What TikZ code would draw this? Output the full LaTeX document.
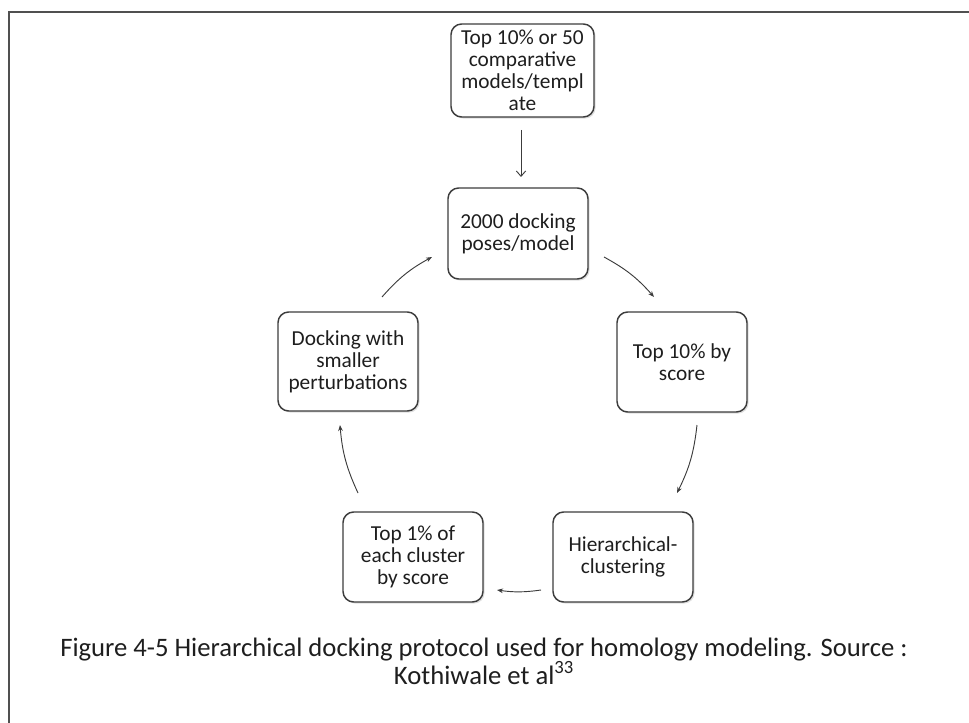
\documentclass[tikz,border=0pt]{standalone}
\usepackage{fontspec}
\setmainfont{Carlito}
\usetikzlibrary{arrows.meta,shadows}
\definecolor{framegray}{HTML}{505050}
\definecolor{boxline}{HTML}{3C3C3C}
\definecolor{txt}{HTML}{1E1E1E}
\begin{document}
\begin{tikzpicture}[x=0.75pt,y=-0.75pt,
  stepbox/.style={draw=boxline, line width=1.1pt, rounded corners=8pt, fill=white,
    align=center, text=txt, font=\fontsize{16}{16.4}\selectfont, inner sep=0pt,
    drop shadow={shadow xshift=1.2pt, shadow yshift=-1.2pt, opacity=0.25, fill=gray}},
  flow/.style={draw=boxline, line width=0.7pt, -{Stealth[length=4.5pt,width=3.5pt]}},
  feed/.style={draw=boxline, line width=0.7pt, -{Straight Barb[length=4pt,width=7pt]}},
  captext/.style={font=\fontsize{20}{21}\selectfont, text=txt, inner sep=0pt, anchor=base}]
\useasboundingbox (0,0) rectangle (969,723);
% outer frame, cut off at right and bottom
\draw[framegray, line width=1.6pt] (9,723) -- (9,12) -- (969,12);

% protocol steps
\node[stepbox, minimum width=143*0.75pt, minimum height=93*0.75pt] (seed) at (522.5,70.5)
  {Top 10\% or 50\\comparative\\models/templ\\ate};
\node[stepbox, minimum width=140*0.75pt, minimum height=91*0.75pt] (poses) at (518,233.5)
  {2000 docking\\poses/model};
\node[stepbox, minimum width=130*0.75pt, minimum height=100*0.75pt] (top10) at (682,362)
  {Top 10\% by\\score};
\node[stepbox, minimum width=140*0.75pt, minimum height=90*0.75pt] (hier) at (623,557)
  {Hierarchical-\\clustering};
\node[stepbox, minimum width=140*0.75pt, minimum height=90*0.75pt] (top1) at (413,557)
  {Top 1\% of\\each cluster\\by score};
\node[stepbox, minimum width=140*0.75pt, minimum height=99*0.75pt] (refine) at (348,361.5)
  {Docking with\\smaller\\perturbations};

% connector end points
\coordinate (a1) at (521,130); \coordinate (a2) at (521,177);
\coordinate (b1) at (604,257); \coordinate (b2) at (654,297);
\coordinate (c1) at (697,425); \coordinate (c2) at (677,493);
\coordinate (d1) at (541,590); \coordinate (d2) at (497,590);
\coordinate (e1) at (358,493); \coordinate (e2) at (340,425);
\coordinate (f1) at (382,297); \coordinate (f2) at (432,257);

\draw[feed] (a1) -- (a2);
\draw[flow] (b1) to[bend left=10] (b2);
\draw[flow] (c1) to[bend left=10] (c2);
\draw[flow] (d1) to[bend left=8] (d2);
\draw[flow] (e1) to[bend left=10] (e2);
\draw[flow] (f1) to[bend left=10] (f2);

% caption, two lines
\node[captext] (caption) at (484,656)
  {Figure 4-5 Hierarchical docking protocol used for homology modeling. Source :};
\node[captext] (source) at (484,684)
  {Kothiwale et al\smash{\textsuperscript{33}}};
\end{tikzpicture}
\end{document}
